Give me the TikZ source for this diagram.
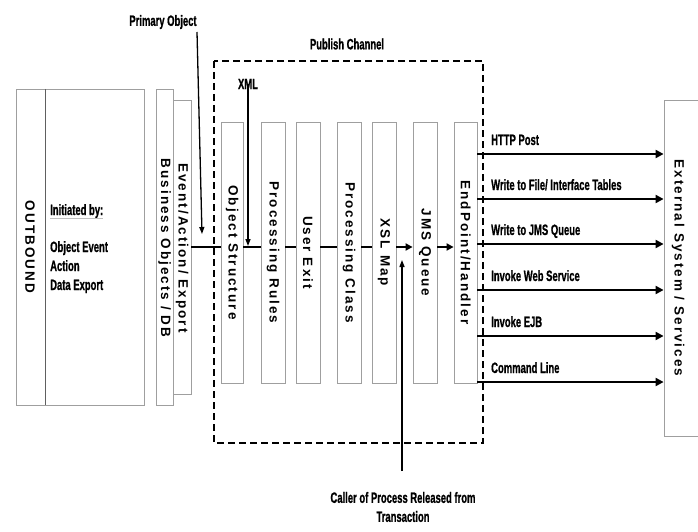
\documentclass[tikz,border=0pt]{standalone}
\usepackage{fontspec}
\setmainfont{Liberation Sans}
\newfontfamily\vfont[LetterSpace=15]{Liberation Sans}
\newfontfamily\hfont[FakeBold=1.2]{Liberation Sans}
\usetikzlibrary{arrows.meta}
\newcommand{\nar}[1]{\scalebox{0.63}[1]{#1}}
\newcommand{\vt}[1]{\rotatebox{-90}{#1}}
\newcommand{\vf}{\vfont\bfseries\fontsize{13.5}{15}\selectfont}
\tikzset{
  boxln/.style={draw=gray!75, line width=0.8pt, inner sep=0pt},
  lbl/.style={font=\hfont\bfseries\fontsize{15}{17}\selectfont, inner sep=0pt},
  vlbl/.style={font=\vf},
  flow/.style={line width=2pt},
  flowarr/.style={line width=2pt, -{Triangle[length=7pt,width=7pt]}},
  thinarr/.style={line width=1.3pt, -{Triangle[length=7pt,width=5pt]}},
}
\begin{document}
\begin{tikzpicture}[x=1pt,y=-1pt]
\useasboundingbox (0,0) rectangle (698,532);
% dashed publish channel
\draw[line width=2pt, dash pattern=on 7pt off 4pt] (214,61) rectangle (483,443);
\node[lbl] (pc) at (347,44) {\nar{Publish Channel}};
% outbound
\node[boxln, minimum width=128, minimum height=316] (ob) at (80,247) {};
\draw[gray!75!black, line width=0.8pt] (45,89) -- (45,405);
\node[vlbl] (obt) at (30,247) {\vt{OUTBOUND}};
\node[lbl, anchor=base west] (init) at (50,215) {\nar{Initiated by:}};
\draw[gray!50, line width=0.8pt] (50,218) -- (103,218);
\node[lbl, anchor=base west] (t1) at (50,252) {\nar{Object Event}};
\node[lbl, anchor=base west] (t2) at (50,271) {\nar{Action}};
\node[lbl, anchor=base west] (t3) at (50,290) {\nar{Data Export}};
% business objects
\node[boxln, minimum width=17, minimum height=316] (bo) at (164.5,247) {};
\node[vlbl] (bot) at (164.5,248) {\vt{Business Objects / DB}};
\node[boxln, minimum width=18, minimum height=294] (ev) at (182,247) {};
\node[vlbl] (evt) at (182,248) {\vt{Event/Action/ Export}};
% inner boxes
\node[boxln, minimum width=22, minimum height=261] (os) at (232,252.5) {\vf\vt{Object Structure}};
\node[boxln, minimum width=24, minimum height=261] (pr) at (273,252.5) {\vf\vt{Processing Rules}};
\node[boxln, minimum width=24, minimum height=261] (ue) at (308,252.5) {\vf\vt{User Exit}};
\node[boxln, minimum width=24, minimum height=261] (pcl) at (349,252.5) {\vf\vt{Processing Class}};
\node[boxln, minimum width=24, minimum height=261] (xsl) at (384,252.5) {\vf\vt{XSL Map}};
\node[boxln, minimum width=24, minimum height=261] (jms) at (425,252.5) {\vf\vt{JMS Queue}};
\node[boxln, minimum width=23, minimum height=261] (eh) at (465.5,252.5) {\vf\vt{EndPoint/Handler}};
% external
\node[boxln, minimum width=40, minimum height=336] (ext) at (684,268) {};
\node[vlbl] (extt) at (678,268) {\vt{External System / Services}};
% main flow
\coordinate (my) at (0,247);
\draw[flow] (ev.east |- my) -- (os.west |- my);
\draw[flow] (os.east |- my) -- (pr.west |- my);
\draw[flow] (pr.east |- my) -- (ue.west |- my);
\draw[flow] (ue.east |- my) -- (pcl.west |- my);
\draw[flow] (pcl.east |- my) -- (xsl.west |- my);
\draw[flowarr] (xsl.east |- my) -- (jms.west |- my);
\draw[flowarr] (jms.east |- my) -- (eh.west |- my);
% primary object
\node[lbl] (po) at (163,22) {\nar{Primary Object}};
\coordinate (poend) at (202,234);
\draw[thinarr] (197,32) -- (poend);
% XML
\node[lbl] (xml) at (248,84) {\nar{XML}};
\coordinate (xmlend) at (248,246);
\draw[thinarr] (xml.center) -- (xmlend);
% caller
\node[lbl, align=center] (caller) at (403,507) {\nar{Caller of Process Released from}\\[2pt]\nar{Transaction}};
\coordinate (callst) at (402,471);
\coordinate (callend) at (402,260);
\draw[thinarr] (callst) -- (callend);
% outputs
\foreach \y/\t/\n in {154/{HTTP Post}/o1, 199/{Write to File/ Interface Tables}/o2, 244/{Write to JMS Queue}/o3, 290/{Invoke Web Service}/o4, 336/{Invoke EJB}/o5, 382/{Command Line}/o6}{
  \coordinate (\n) at (0,\y);
  \draw[line width=2.2pt, -{Triangle[length=8pt,width=8pt]}] (eh.east |- \n) -- (ext.west |- \n);
  \node[lbl, anchor=base west] at (491,\y-9) {\nar{\t}};
}
\end{tikzpicture}
\end{document}
